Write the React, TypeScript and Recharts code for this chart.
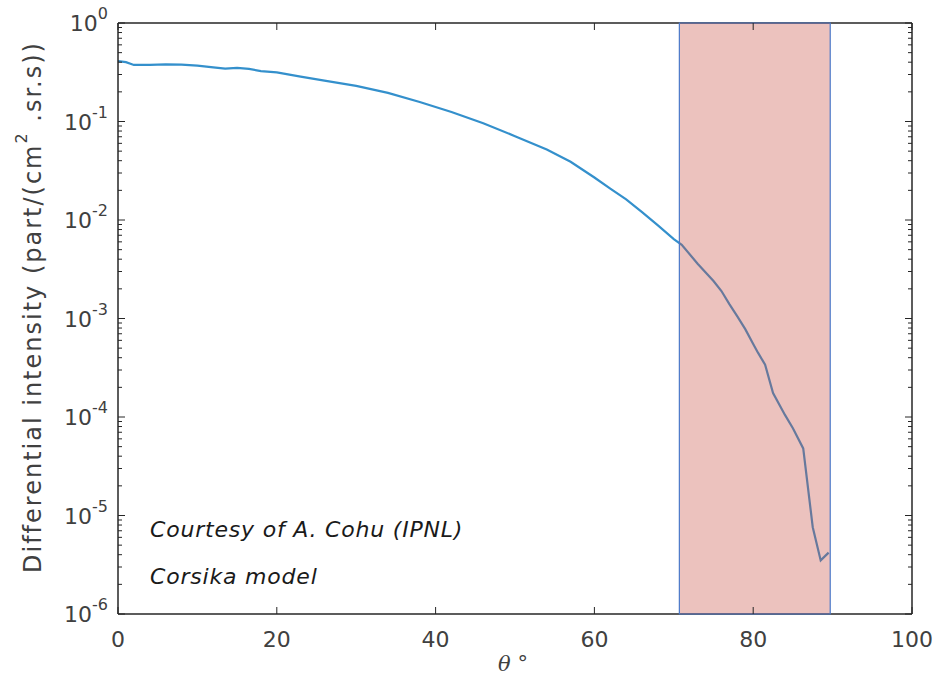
import React from 'react';
import { LineChart, Line, XAxis, YAxis, ReferenceArea } from 'recharts';

const theta = [0, 1, 2, 4, 6, 8, 10, 12, 13.5, 15, 16.5, 18, 20, 23, 26, 30, 34, 38, 42, 46, 50, 54, 57, 60, 62, 64, 66, 68, 70, 71, 73, 75, 76, 77, 78, 79, 80, 80.6, 81.5, 82.5, 84, 85, 86.3, 87.5, 88.5, 89.5];
const intensity = [0.41, 0.40, 0.375, 0.375, 0.38, 0.378, 0.37, 0.355, 0.345, 0.35, 0.342, 0.325, 0.315, 0.285, 0.26, 0.23, 0.195, 0.158, 0.125, 0.096, 0.071, 0.052, 0.039, 0.027, 0.0208, 0.0162, 0.012, 0.0088, 0.0064, 0.0056, 0.0036, 0.0024, 0.0019, 0.0014, 0.00105, 0.00078, 0.00055, 0.00045, 0.00034, 0.000175, 0.000105, 0.000077, 0.000048, 0.0000076, 0.0000035, 0.0000042];

const xTicks = [0, 20, 40, 60, 80, 100];
const yExponents = [-6, -5, -4, -3, -2, -1, 0];
const bandStart = 70.7;
const bandEnd = 89.7;

const data = theta.map((t, i) => ({ theta: t, value: intensity[i] }));

const yTicks: number[] = [];
yExponents.forEach((e) => {
  const base = Math.pow(10, e);
  yTicks.push(base);
  if (e < 0) for (let m = 2; m <= 9; m++) yTicks.push(m * base);
});

const AX = '#262626';
const TXT = '#404040';
const FONT = 'DejaVu Sans, sans-serif';

const isMajor = (v: number) => {
  const l = Math.log10(v);
  return Math.abs(l - Math.round(l)) < 1e-9;
};

const LeftTick = (props: any) => {
  const { x, y, payload } = props;
  const v = payload.value;
  const major = isMajor(v);
  const exp = Math.round(Math.log10(v));
  return (
    <g>
      <line x1={x} x2={x + (major ? 7 : 4)} y1={y} y2={y} stroke={AX} strokeWidth={1} />
      {major && (
        <text x={x - 10} y={y + 8} textAnchor="end" fill={TXT} fontFamily={FONT} fontSize={22}>
          10<tspan dy={-12} fontSize={16}>{exp}</tspan>
        </text>
      )}
    </g>
  );
};

const RightTick = (props: any) => {
  const { x, y, payload } = props;
  const major = isMajor(payload.value);
  return <line x1={x} x2={x - (major ? 7 : 4)} y1={y} y2={y} stroke={AX} strokeWidth={1} />;
};

const BottomTick = (props: any) => {
  const { x, y, payload } = props;
  return (
    <g>
      <line x1={x} x2={x} y1={y} y2={y - 7} stroke={AX} strokeWidth={1} />
      <text x={x} y={y + 33} textAnchor="middle" fill={TXT} fontFamily={FONT} fontSize={22}>
        {payload.value}
      </text>
    </g>
  );
};

const TopTick = (props: any) => {
  const { x, y } = props;
  return <line x1={x} x2={x} y1={y} y2={y + 7} stroke={AX} strokeWidth={1} />;
};

export default function App() {
  return (
    <div style={{ position: 'absolute', left: 0, top: 0, width: 937, height: 688, background: '#fff' }}>
      <LineChart
        width={937}
        height={688}
        data={data}
        margin={{ top: 13, right: 15, bottom: 24, left: 58 }}
      >
        <XAxis
          dataKey="theta"
          type="number"
          domain={[0, 100]}
          ticks={xTicks}
          interval={0}
          height={50}
          tickSize={0}
          tickMargin={0}
          tickLine={false}
          axisLine={{ stroke: AX, strokeWidth: 1.5 }}
          tick={<BottomTick />}
          allowDataOverflow
        />
        <XAxis
          xAxisId="top"
          orientation="top"
          dataKey="theta"
          type="number"
          domain={[0, 100]}
          ticks={xTicks}
          interval={0}
          height={10}
          tickSize={0}
          tickMargin={0}
          tickLine={false}
          axisLine={{ stroke: AX, strokeWidth: 1.5 }}
          tick={<TopTick />}
          allowDataOverflow
        />
        <YAxis
          scale="log"
          type="number"
          domain={[1e-6, 1]}
          ticks={yTicks}
          interval={0}
          width={60}
          tickSize={0}
          tickMargin={0}
          tickLine={false}
          axisLine={{ stroke: AX, strokeWidth: 1.5 }}
          tick={<LeftTick />}
          allowDataOverflow
        />
        <YAxis
          yAxisId="right"
          orientation="right"
          scale="log"
          type="number"
          domain={[1e-6, 1]}
          ticks={yTicks}
          interval={0}
          width={10}
          tickSize={0}
          tickMargin={0}
          tickLine={false}
          axisLine={{ stroke: AX, strokeWidth: 1.5 }}
          tick={<RightTick />}
          allowDataOverflow
        />
        <Line
          type="linear"
          dataKey="value"
          stroke="#3490cc"
          strokeWidth={2.2}
          dot={false}
          isAnimationActive={false}
          zIndex={400}
        />
        <ReferenceArea
          x1={bandStart}
          x2={bandEnd}
          y1={1e-6}
          y2={1}
          fill="rgb(200,80,70)"
          fillOpacity={0.35}
          stroke="#4a78c8"
          strokeWidth={1.2}
          strokeOpacity={1}
          ifOverflow="visible"
          zIndex={600}
        />
      </LineChart>
      <div
        style={{
          position: 'absolute',
          left: 33,
          top: 307,
          transform: 'translate(-50%, -50%) rotate(-90deg)',
          whiteSpace: 'nowrap',
          fontFamily: FONT,
          fontSize: 24,
          letterSpacing: 2,
          color: TXT,
        }}
      >
        Differential intensity (part/(cm<sup style={{ fontSize: 16, verticalAlign: 'top', position: 'relative', top: -7 }}>2</sup> .sr.s))
      </div>
      <div
        style={{
          position: 'absolute',
          left: 513,
          top: 664,
          transform: 'translate(-50%, -50%)',
          whiteSpace: 'nowrap',
          fontSize: 21,
          color: TXT,
        }}
      >
        <span style={{ fontFamily: 'DejaVu Serif, serif', fontStyle: 'italic' }}>θ</span>
        <span style={{ fontFamily: FONT }}> °</span>
      </div>
      <div
        style={{
          position: 'absolute',
          left: 150,
          top: 517,
          whiteSpace: 'nowrap',
          fontFamily: FONT,
          fontStyle: 'italic',
          fontSize: 22,
          letterSpacing: 0.8,
          color: '#1a1a1a',
        }}
      >
        Courtesy of A. Cohu (IPNL)
      </div>
      <div
        style={{
          position: 'absolute',
          left: 150,
          top: 564,
          whiteSpace: 'nowrap',
          fontFamily: FONT,
          fontStyle: 'italic',
          fontSize: 22,
          letterSpacing: 0.8,
          color: '#1a1a1a',
        }}
      >
        Corsika model
      </div>
    </div>
  );
}
